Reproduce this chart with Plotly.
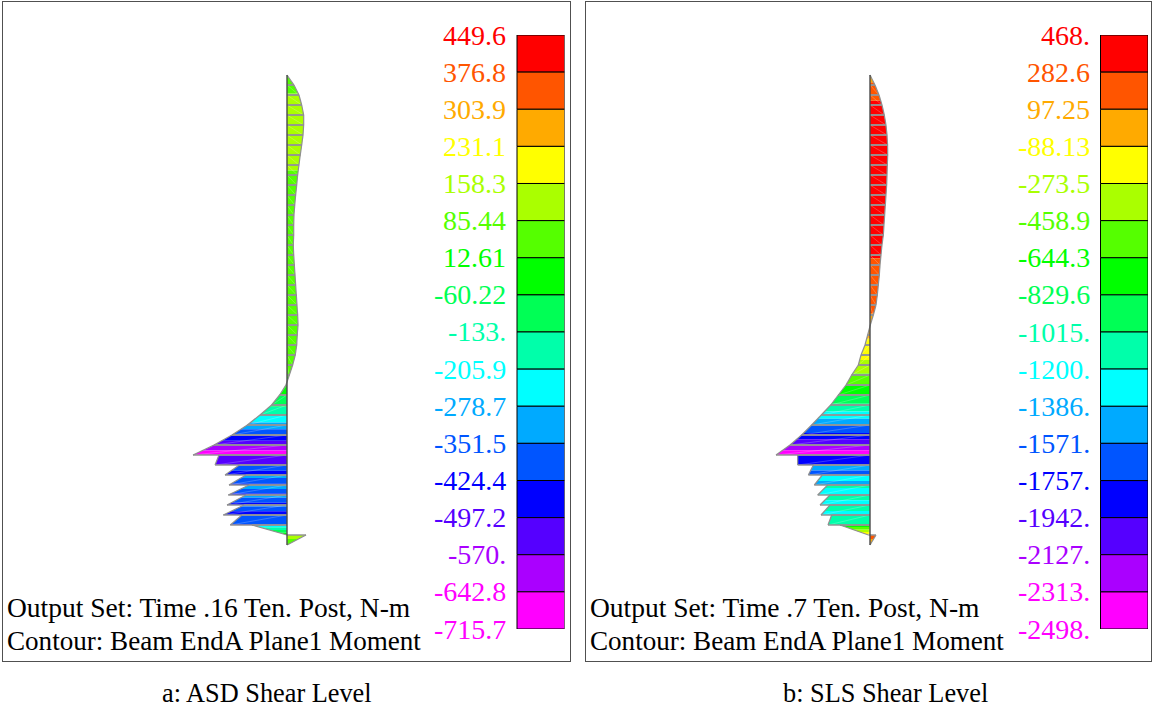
import plotly.graph_objects as go

W, H = 1152, 708
FONT = "Liberation Serif"

# contour legends (labels top to bottom)
labels_a = ["449.6", "376.8", "303.9", "231.1", "158.3", "85.44", "12.61", "-60.22", "-133.",
            "-205.9", "-278.7", "-351.5", "-424.4", "-497.2", "-570.", "-642.8", "-715.7"]
labels_b = ["468.", "282.6", "97.25", "-88.13", "-273.5", "-458.9", "-644.3", "-829.6", "-1015.",
            "-1200.", "-1386.", "-1571.", "-1757.", "-1942.", "-2127.", "-2313.", "-2498."]
band_colors = ["#ff0000", "#ff5500", "#ffaa00", "#ffff00", "#aaff00", "#55ff00", "#00ff00", "#00ff55",
               "#00ffaa", "#00ffff", "#00aaff", "#0055ff", "#0000ff", "#5500ff", "#aa00ff", "#ff00ff"]
label_colors = band_colors + ["#ff00ff"]

# moment at successive stations along the post (continuous upper part)
upper_a = [0, 53, 91, 112, 127, 127, 122, 112, 101, 91, 81, 74, 66, 59, 53, 51, 51, 48, 51, 56, 61, 66,
           71, 76, 81, 84, 78, 74, 63, 43, 18, -8, -56, -117, -206, -302, -419, -556, -716]
upper_b = [0, 132, 238, 317, 378, 423, 450, 465, 468, 458, 450, 441, 423, 405, 388, 370, 353, 317, 291,
           265, 247, 220, 194, 159, 88, 8, -62, -132, -238, -309, -485, -635, -838, -1040, -1288, -1543,
           -1808, -2116, -2487]
# lower part: element end values jump between elements
lower_top_a = [-518, -363, -312, -289, -312, -327, -343, -267, 145]
lower_bot_a = [-548, -472, -442, -447, -457, -485, -432, 0, 0]
lower_top_b = [-1913, -1499, -1261, -1120, -1058, -1058, -1014, -794, 159]
lower_bot_b = [-1913, -1631, -1473, -1384, -1323, -1296, -1111, -40, 0]


def elements(upper, tops, bots):
    out = []
    for i in range(len(upper) - 1):
        out.append((i, upper[i], upper[i + 1]))
    n = len(upper) - 1
    for k, (t, b) in enumerate(zip(tops, bots)):
        out.append((n + k, t, b))
    return out


def band_index(v, levels):
    for i in range(16):
        if v >= levels[i + 1]:
            return i
    return 15


def diagram(els, levels, xa, ya):
    polys = {i: ([], []) for i in range(16)}
    hx, hy, ox, oy, dx, dy = [], [], [], [], [], []
    for s, v0, v1 in els:
        cuts = {0.0, 1.0}
        if v0 != v1:
            for c in levels[1:-1] + [0.0]:
                t = (c - v0) / (v1 - v0)
                if 0 < t < 1:
                    cuts.add(t)
        cuts = sorted(cuts)
        for a, b in zip(cuts, cuts[1:]):
            va, vb = v0 + (v1 - v0) * a, v0 + (v1 - v0) * b
            px, py = polys[band_index((va + vb) / 2, levels)]
            px += [0, va, vb, 0, 0, None]
            py += [s + a, s + a, s + b, s + b, s + a, None]
        hx += [0, v0, None, 0, v1, None]
        hy += [s, s, None, s + 1, s + 1, None]
        ox += [v0, v1, None]
        oy += [s, s + 1, None]
        dx += [0, v1, None]
        dy += [s, s + 1, None]
    common = dict(xaxis=xa, yaxis=ya, hoverinfo="skip", showlegend=False, mode="lines")
    tr = []
    for i in range(16):
        if polys[i][0]:
            tr.append(go.Scatter(x=polys[i][0], y=polys[i][1], fill="toself", fillcolor=band_colors[i],
                                 line=dict(width=0), **common))
    tr.append(go.Scatter(x=dx, y=dy, line=dict(color="rgba(255,255,255,0.28)", width=0.8), **common))
    tr.append(go.Scatter(x=hx, y=hy, line=dict(color="#959595", width=1.6), **common))
    tr.append(go.Scatter(x=ox, y=oy, line=dict(color="#8f8f8f", width=1.2), **common))
    last = els[-1][0] + 1
    tr.append(go.Scatter(x=[0, 0], y=[0, last], line=dict(color="#4a4a4a", width=1.4), **common))
    return tr


def legend_bar(labels, xa, ya):
    vals = [float(t) for t in labels]
    return go.Bar(x=[-23.75] * 16, y=[vals[i] - vals[i + 1] for i in range(16)], base=vals[1:], width=47.5,
                  marker=dict(color=band_colors, line=dict(color="#000000", width=1)),
                  xaxis=xa, yaxis=ya, showlegend=False, hoverinfo="skip")


def legend_labels(labels, xa, ya):
    return [dict(text=t, x=-57.5, y=float(t), xref=xa, yref=ya, showarrow=False, xanchor="right",
                 yanchor="middle", borderpad=0, font=dict(family=FONT, size=28, color=c))
            for t, c in zip(labels, label_colors)]


fig = go.Figure()
lev_a = [float(t) for t in labels_a]
lev_b = [float(t) for t in labels_b]
for t in diagram(elements(upper_a, lower_top_a, lower_bot_a), lev_a, "x", "y"):
    fig.add_trace(t)
for t in diagram(elements(upper_b, lower_top_b, lower_bot_b), lev_b, "x2", "y2"):
    fig.add_trace(t)
fig.add_trace(legend_bar(labels_a, "x3", "y3"))
fig.add_trace(legend_bar(labels_b, "x4", "y4"))


def frame_axes(left, right, base, scale):
    xax = dict(domain=[left / W, right / W], range=[(left - base) / scale, (right - base) / scale],
               showline=True, mirror=True, linecolor="#505050", linewidth=1, showgrid=False,
               zeroline=False, showticklabels=False, ticks="")
    return xax


yframe = dict(domain=[1 - 660.5 / H, 1 - 1.5 / H], range=[(660.5 - 75) / 10, (1.5 - 75) / 10],
              showline=True, mirror=True, linecolor="#505050", linewidth=1, showgrid=False,
              zeroline=False, showticklabels=False, ticks="")
hidden = dict(visible=False)


def annotation(text, x, y, size, anchor="left"):
    return dict(text=text, x=x / W, y=1 - y / H, xref="paper", yref="paper", showarrow=False, xanchor=anchor,
                yanchor="middle", font=dict(family=FONT, size=size, color="#000000"))


fig.update_layout(
    width=W, height=H, margin=dict(l=0, r=0, t=0, b=0), paper_bgcolor="white", plot_bgcolor="white",
    barmode="overlay", showlegend=False,
    xaxis=dict(anchor="y", **frame_axes(3, 569.5, 287, 0.1313)),
    yaxis=dict(anchor="x", **yframe),
    xaxis2=dict(anchor="y2", **frame_axes(585.5, 1151, 870, 0.0378)),
    yaxis2=dict(anchor="x2", **yframe),
    xaxis3=dict(anchor="y3", domain=[420 / W, 564.5 / W], range=[-144.5, 0], **hidden),
    yaxis3=dict(anchor="x3", domain=[1 - 629 / H, 1 - 35 / H], range=[lev_a[-1], lev_a[0]], **hidden),
    xaxis4=dict(anchor="y4", domain=[1003.5 / W, 1148 / W], range=[-144.5, 0], **hidden),
    yaxis4=dict(anchor="x4", domain=[1 - 629 / H, 1 - 35 / H], range=[lev_b[-1], lev_b[0]], **hidden),
    annotations=legend_labels(labels_a, "x3", "y3") + legend_labels(labels_b, "x4", "y4") + [
        annotation("Output Set: Time .16 Ten. Post, N-m", 4.5, 607, 27.5),
        annotation("Contour: Beam EndA Plane1 Moment", 4.5, 641, 27.1),
        annotation("Output Set: Time .7 Ten. Post, N-m", 587.5, 607, 27.5),
        annotation("Contour: Beam EndA Plane1 Moment", 587.5, 641, 27.1),
        annotation("a: ASD Shear Level", 267, 693, 26.3, "center"),
        annotation("b: SLS Shear Level", 885, 693, 26.3, "center"),
    ],
)
fig.write_html("out.html", config=dict(displayModeBar=False),
               post_script="document.body.style.margin='0';document.body.style.overflow='hidden';")
